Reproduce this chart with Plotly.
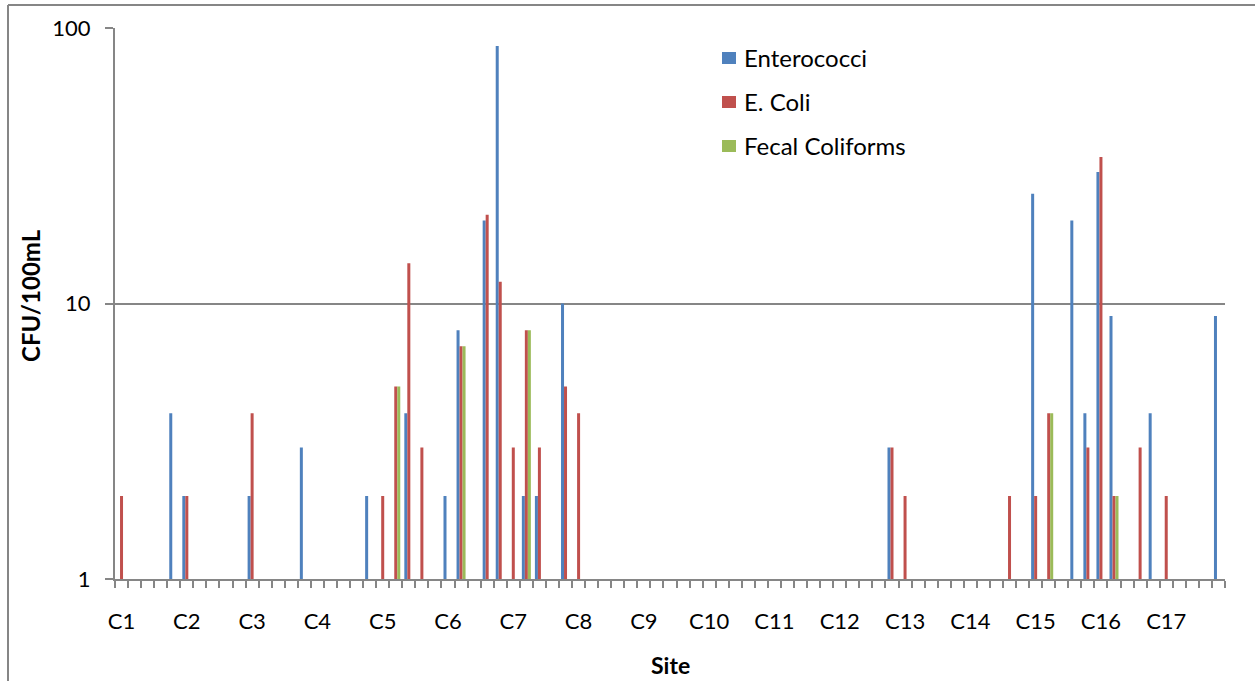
import plotly.graph_objects as go

# ---- data (85 samples, 5 per site) ----
sites = ["C1", "C2", "C3", "C4", "C5", "C6", "C7", "C8", "C9", "C10",
         "C11", "C12", "C13", "C14", "C15", "C16", "C17"]
samples_per_site = 5
n = len(sites) * samples_per_site
sample_idx = list(range(n))

N = None
enterococci = [
    N, N, N, N, 4,   2, N, N, N, N,   2, N, N, N, 3,   N, N, N, N, 2,
    N, N, 4, N, N,   2, 8, N, 20, 86, N, 2, 2, N, 10,  N, N, N, N, N,
    N, N, N, N, N,   N, N, N, N, N,   N, N, N, N, N,   N, N, N, N, 3,
    N, N, N, N, N,   N, N, N, N, N,   25, N, N, 20, 4, 30, 9, N, N, 4,
    N, N, N, N, 9,
]
e_coli = [
    2, N, N, N, N,   2, N, N, N, N,   4, N, N, N, N,   N, N, N, N, N,
    2, 5, 14, 3, N,  N, 7, N, 21, 12, 3, 8, 3, N, 5,   4, N, N, N, N,
    N, N, N, N, N,   N, N, N, N, N,   N, N, N, N, N,   N, N, N, N, 3,
    2, N, N, N, N,   N, N, N, 2, N,   2, 4, N, N, 3,   34, 2, N, 3, N,
    2, N, N, N, N,
]
fecal_coliforms = [
    N, N, N, N, N,   N, N, N, N, N,   N, N, N, N, N,   N, N, N, N, N,
    N, 5, N, N, N,   N, 7, N, N, N,   N, 8, N, N, N,   N, N, N, N, N,
    N, N, N, N, N,   N, N, N, N, N,   N, N, N, N, N,   N, N, N, N, N,
    N, N, N, N, N,   N, N, N, N, N,   N, 4, N, N, N,   N, 2, N, N, N,
    N, N, N, N, N,
]
series_names = ["Enterococci", "E. Coli", "Fecal Coliforms"]
series_colors = ["#4F81BD", "#C0504D", "#9BBB59"]
label_positions = [i * samples_per_site for i in range(len(sites))]
y_ticks = [1, 10, 100]

FONT = "Lato"
GREY = "#868686"

# plot-area pixel geometry (for converting layout positions to paper coords)
PL, PR, PT, PB = 115, 1225, 28, 579
def px(xp):
    return (xp - PL) / (PR - PL)
def py(yp):
    return (PB - yp) / (PB - PT)

fig = go.Figure()
for name, vals, col in zip(series_names, [enterococci, e_coli, fecal_coliforms], series_colors):
    fig.add_trace(go.Bar(x=sample_idx, y=vals, name=name, marker_color=col,
                         marker_line_width=0, showlegend=False))

fig.update_layout(
    width=1255, height=681,
    margin=dict(l=PL, r=1255 - PR, t=PT, b=681 - PB),
    paper_bgcolor="white", plot_bgcolor="white",
    barmode="group", bargap=0.31, bargroupgap=0,
    font=dict(family=FONT, color="black", size=22),
    showlegend=False,
    xaxis=dict(range=[-0.5, n - 0.5], tickmode="array",
               tickvals=label_positions, ticktext=sites,
               ticks="", ticklabelstandoff=22,
               tickfont=dict(family=FONT, size=22, color="black"),
               minor=dict(tickmode="array",
                          tickvals=[i - 0.5 for i in range(n + 1)],
                          ticks="outside", ticklen=7, tickwidth=2,
                          tickcolor=GREY, showgrid=False),
               showline=True, linecolor=GREY, linewidth=2,
               showgrid=False, zeroline=False),
    yaxis=dict(type="log", range=[0, 2], tickmode="array", tickvals=y_ticks,
               ticktext=[str(v) for v in y_ticks],
               ticks="outside", ticklen=8, tickwidth=2, tickcolor=GREY,
               ticklabelstandoff=10,
               showline=True, linecolor=GREY, linewidth=2,
               showgrid=True, gridcolor=GREY, gridwidth=2,
               zeroline=False, tickfont=dict(family=FONT, size=22, color="black")),
)

# legend (swatch + label per series)
for k, (name, col) in enumerate(zip(series_names, series_colors)):
    cy = 58 + 44 * k
    fig.add_shape(type="rect", xref="paper", yref="paper",
                  x0=px(722), x1=px(736), y0=py(cy - 6), y1=py(cy + 6),
                  fillcolor=col, line=dict(width=0), layer="above")
    fig.add_annotation(text=name, xref="paper", yref="paper",
                       x=px(742), y=py(cy - 1), xanchor="left", yanchor="middle",
                       showarrow=False, font=dict(family=FONT, size=24, color="black"))

fig.add_annotation(text="<b>Site</b>", xref="paper", yref="paper",
                   x=0.5, y=py(665), xanchor="center", yanchor="middle",
                   showarrow=False, font=dict(family=FONT, size=23, color="black"))
fig.add_annotation(text="<b>CFU/100mL</b>", xref="paper", yref="paper",
                   x=px(30), y=py(296), xanchor="center", yanchor="middle",
                   textangle=-90, showarrow=False,
                   font=dict(family=FONT, size=24, color="black"))

# outer chart border (top and left visible)
fig.add_shape(type="line", xref="paper", yref="paper",
              x0=px(8), x1=px(1260), y0=py(5), y1=py(5),
              line=dict(color=GREY, width=2))
fig.add_shape(type="line", xref="paper", yref="paper",
              x0=px(8), x1=px(8), y0=py(5), y1=py(690),
              line=dict(color=GREY, width=2))

fig.write_html("out.html", config={"displayModeBar": False},
               post_script="document.body.style.margin='0px';")
